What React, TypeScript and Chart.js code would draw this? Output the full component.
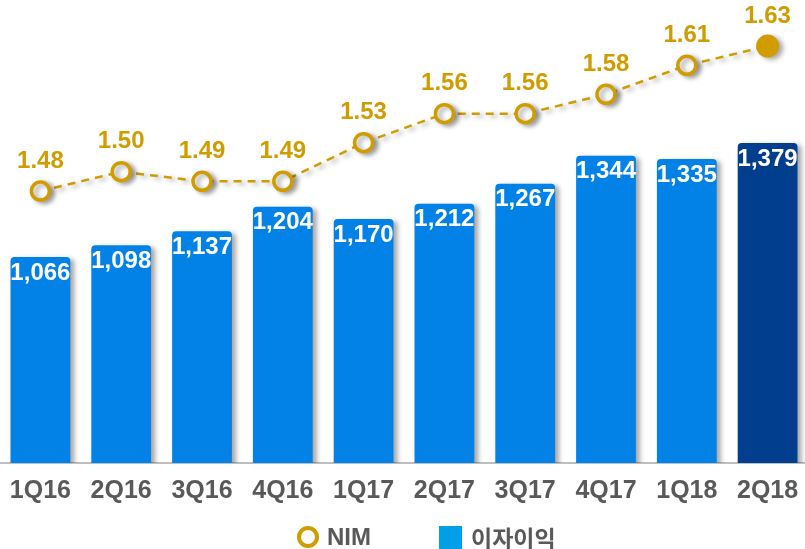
import React, { useEffect, useRef } from "react";
import { Chart, registerables } from "chart.js";

Chart.register(...registerables);

const categories = ["1Q16", "2Q16", "3Q16", "4Q16", "1Q17", "2Q17", "3Q17", "4Q17", "1Q18", "2Q18"];
const interestIncome = [1066, 1098, 1137, 1204, 1170, 1212, 1267, 1344, 1335, 1379];
const nim = [1.48, 1.5, 1.49, 1.49, 1.53, 1.56, 1.56, 1.58, 1.61, 1.63];
const barColors = ["#0282E6", "#0282E6", "#0282E6", "#0282E6", "#0282E6", "#0282E6", "#0282E6", "#0282E6", "#0282E6", "#023E8E"];

const GOLD = "#D09C00";
const FONT = "'Liberation Sans', Arial, sans-serif";

const fmt = (v: number) => v.toLocaleString("en-US");

const shadowPlugin = {
  id: "shadowPlugin",
  beforeDatasetsDraw(chart: any) {
    const ctx = chart.ctx;
    ctx.save();
    ctx.shadowColor = "rgba(0,0,0,0.35)";
    ctx.shadowBlur = 5;
    ctx.shadowOffsetX = 4;
    ctx.shadowOffsetY = 2;
  },
  afterDatasetsDraw(chart: any) {
    chart.ctx.restore();
  },
};

const labelPlugin = {
  id: "labelPlugin",
  afterDatasetsDraw(chart: any) {
    const ctx = chart.ctx;
    ctx.save();
    ctx.textAlign = "center";
    ctx.textBaseline = "middle";
    const barMeta = chart.getDatasetMeta(1);
    ctx.font = `bold 24px ${FONT}`;
    ctx.fillStyle = "#FFFFFF";
    barMeta.data.forEach((el: any, i: number) => {
      ctx.fillText(fmt(interestIncome[i]), el.x, el.y + 16);
    });
    const lineMeta = chart.getDatasetMeta(0);
    ctx.font = `bold 24px ${FONT}`;
    ctx.fillStyle = GOLD;
    lineMeta.data.forEach((el: any, i: number) => {
      ctx.fillText(nim[i].toFixed(2), el.x, el.y - 30);
    });
    // category labels
    const xScale = chart.scales.x;
    ctx.font = `bold 25px ${FONT}`;
    ctx.fillStyle = "#595959";
    categories.forEach((c, i) => {
      ctx.fillText(c, xScale.getPixelForValue(i), chart.chartArea.bottom + 28);
    });
    ctx.restore();
  },
};

export default function App() {
  const ref = useRef<HTMLCanvasElement | null>(null);
  useEffect(() => {
    if (!ref.current) return;
    const last = nim.length - 1;
    const chart = new Chart(ref.current, {
      data: {
        labels: categories,
        datasets: [
          {
            type: "line",
            label: "NIM",
            data: nim,
            yAxisID: "y2",
            borderColor: GOLD,
            borderWidth: 2.5,
            borderDash: [8, 6],
            pointRadius: nim.map((_, i) => (i === last ? 11.5 : 9)),
            pointBorderWidth: nim.map((_, i) => (i === last ? 0 : 3.5)),
            pointBackgroundColor: nim.map((_, i) => (i === last ? GOLD : "#FFFFFF")),
            pointBorderColor: GOLD,
            clip: false,
            order: 0,
          } as any,
          {
            type: "bar",
            label: "이자이익",
            data: interestIncome,
            yAxisID: "y",
            backgroundColor: barColors,
            borderRadius: { topLeft: 4, topRight: 4, bottomLeft: 0, bottomRight: 0 },
            borderSkipped: "bottom",
            barPercentage: 0.74,
            categoryPercentage: 1,
            order: 1,
          } as any,
        ],
      },
      options: {
        animation: false,
        responsive: false,
        maintainAspectRatio: false,
        layout: { autoPadding: false, padding: { left: 0, right: 0, top: 0, bottom: 86 } },
        plugins: { legend: { display: false }, tooltip: { enabled: false } },
        scales: {
          x: {
            grid: { display: false, drawTicks: false },
            border: { display: true, color: "#BFBFBF", width: 2 },
            ticks: { display: false },
          },
          y: { display: false, min: 500, max: 1772 },
          y2: { display: false, min: 1.1987, max: 1.6776 },
        },
      },
      plugins: [shadowPlugin, labelPlugin],
    });
    return () => chart.destroy();
  }, []);

  return (
    <div style={{ position: "fixed", left: 0, top: 0, width: 805, height: 549, background: "#FFFFFF", overflow: "hidden" }}>
      <canvas ref={ref} width={808} height={549} style={{ position: "absolute", left: 0, top: 0 }} />
      <div
        style={{
          position: "absolute",
          left: 297,
          top: 523,
          height: 28,
          display: "flex",
          alignItems: "center",
          fontFamily: FONT,
          fontWeight: "bold",
          fontSize: 24,
          color: "#595959",
        }}
      >
        <span
          style={{
            display: "inline-block",
            width: 22,
            height: 22,
            borderRadius: "50%",
            border: `4.5px solid ${GOLD}`,
            boxSizing: "border-box",
            marginRight: 8,
          }}
        />
        <span style={{ marginRight: 68 }}>NIM</span>
        <span style={{ display: "inline-block", width: 23, height: 23, background: "#00A0E9", marginRight: 9 }} />
        <span style={{ fontFamily: "'Noto Sans CJK KR', sans-serif", fontWeight: "bold", fontSize: 23 }}>이자이익</span>
      </div>
    </div>
  );
}
